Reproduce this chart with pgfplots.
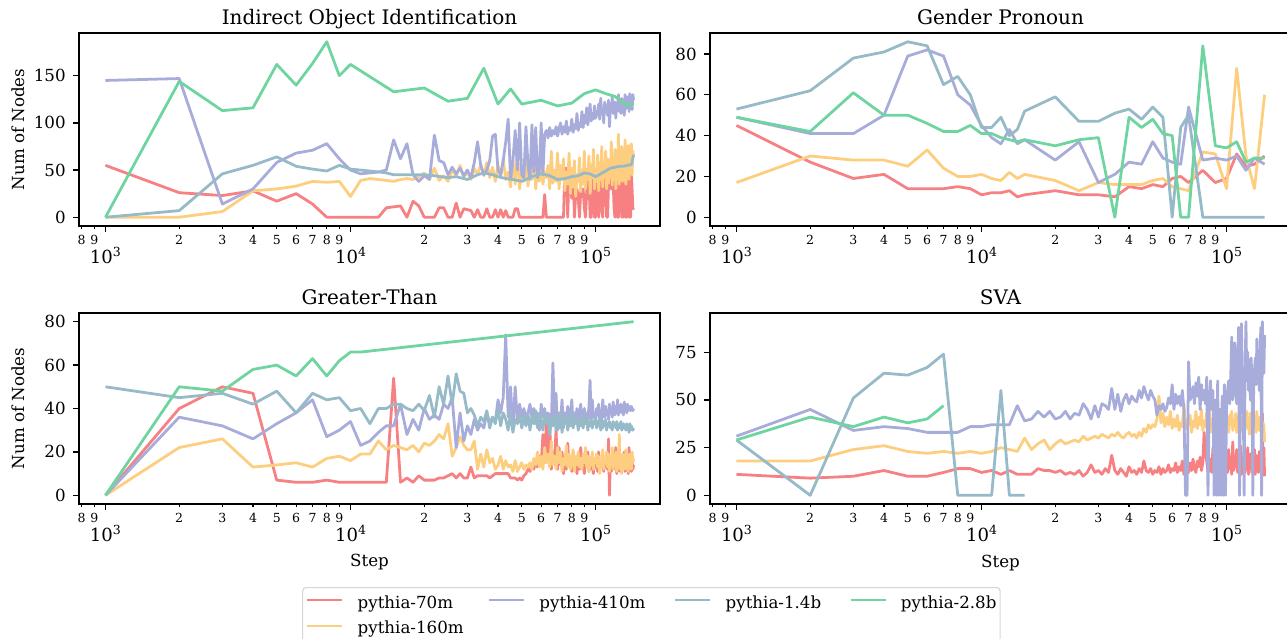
\documentclass[border=0pt]{standalone}
\usepackage{pgfplots}
\pgfplotsset{compat=1.18}
\usepackage{pgfplotstable}
\usepackage{fontspec}
\setmainfont{DejaVu Serif}
\definecolor{c70}{RGB}{246,128,130}
\definecolor{c160}{RGB}{253,206,128}
\definecolor{c410}{RGB}{168,172,218}
\definecolor{c14}{RGB}{150,186,200}
\definecolor{c28}{RGB}{110,212,160}
\newcommand{\sx}[1]{10\raisebox{5.3pt}{\fontsize{9}{10}\selectfont #1}}

\pgfplotstableread{
step r o l g G
1000 55 0 145 0 0
2000 26 0 147 7 144
3000 23 6 14 46 113
4000 28 28 30 55 116
5000 17 30 58 64 162
6000 25 33 68 54 140
7000 14 38 71 51 163
8000 0 37 78 49 186
9000 0 38 62 55 150
10000 0 22 50 51 162
11000 0 39 46 50 nan
12000 0 41 47 49 nan
13000 0 40 48 48 nan
14000 10 39 50 47 nan
15000 11 38 82 45 133
16000 12 40 62 nan nan
17000 0 41 78 45 nan
18000 17 40 45 nan nan
19000 12 43 38 nan nan
20000 0 47 44 45 137
21000 0 40 40 nan nan
22000 0 52 87 44 nan
23000 10 39 60 nan nan
24000 10 44 58 nan nan
25000 0 38 45 42 123
26000 0 50 53 nan nan
27000 15 44 46 43 nan
28000 0 55 52 nan nan
29000 9 42 44 nan nan
30000 8 48 50 40 126
31000 7 40 42 nan nan
32000 0 52 58 nan nan
33000 8 45 80 45 nan
34000 0 56 55 nan nan
35000 0 44 45 47 158
36000 9 58 50 nan nan
37000 0 42 60 nan nan
38000 0 53 86 45 nan
39000 8 38 88 nan nan
40000 0 55 50 43 120
41000 8 42 45 nan nan
42000 0 62 60 nan nan
43000 7 40 80 41 nan
44000 0 48 104 nan nan
45000 0 32 40 nan 136
46000 0 60 60 40 nan
47000 9 35 92 nan nan
48000 9 70 50 nan nan
49000 0 30 100 nan nan
50000 0 55 45 38 120
51000 0 38 42 nan nan
52000 0 72 96 nan nan
53000 0 33 55 nan nan
54000 0 58 40 nan nan
55000 0 40 98 43 nan
56000 0 65 48 nan nan
57000 0 30 95 nan nan
58000 0 52 42 nan nan
59000 0 38 50 nan nan
60000 0 60 100 46 124
61000 0 35 45 nan nan
62000 24 48 88 nan nan
63000 0 42 92 nan nan
64000 0 55 84 nan nan
65000 0 30 95 44 nan
66000 0 70 86 nan nan
67000 0 36 92 nan nan
68000 0 50 88 nan nan
69000 0 38 96 nan nan
70000 0 68 86 40 118
71000 0 30 94 nan nan
72000 0 55 100 nan nan
73000 0 40 88 nan nan
74000 0 62 96 nan nan
75000 52 28 90 41 nan
76000 52 48 102 nan nan
77000 0 35 88 nan nan
78000 50 68 95 nan nan
79000 30 25 92 nan nan
80000 20 52 104 43 121
81000 52 32 90 nan nan
82000 0 60 98 nan nan
83000 25 22 94 nan nan
84000 30 45 110 nan nan
85000 20 38 92 44 nan
86000 0 63 100 nan nan
87000 28 27 96 nan nan
88000 22 50 112 nan nan
89000 30 35 95 nan nan
90000 10 70 108 47 131
91000 0 30 100 nan nan
92000 25 48 116 nan nan
93000 52 40 98 nan nan
94000 45 65 106 nan nan
95000 0 25 120 46 nan
96000 0 55 102 nan nan
97000 20 42 110 nan nan
98000 40 72 104 nan nan
99000 0 30 118 nan nan
100000 0 50 105 43 135
101000 45 38 112 nan nan
102000 30 66 108 nan nan
103000 0 28 120 nan nan
104000 20 58 104 nan nan
105000 45 40 126 46 nan
106000 10 75 110 nan nan
107000 0 32 115 nan nan
108000 30 55 100 nan nan
109000 48 45 122 nan nan
110000 40 70 112 49 131
111000 0 30 118 nan nan
112000 0 62 108 nan nan
113000 35 36 124 nan nan
114000 50 52 96 nan nan
115000 45 44 120 52 nan
116000 30 80 112 nan nan
117000 50 34 128 nan nan
118000 40 60 110 nan nan
119000 10 48 116 nan nan
120000 0 72 122 53 128
121000 30 30 105 nan nan
122000 45 56 120 nan nan
123000 0 42 114 nan nan
124000 0 88 130 nan nan
125000 20 35 112 54 nan
126000 50 62 118 nan nan
127000 42 48 110 nan nan
128000 0 75 126 nan nan
129000 35 38 116 nan nan
130000 0 58 120 54 nan
131000 50 45 108 nan nan
132000 15 82 130 nan nan
133000 0 35 115 nan nan
134000 0 60 122 nan nan
135000 45 50 118 55 118
136000 25 76 128 nan nan
137000 0 40 112 nan nan
138000 40 65 131 nan nan
139000 0 52 118 nan nan
140000 48 78 125 56 nan
141000 30 45 114 nan nan
142000 10 70 130 nan nan
143000 8 65 124 66 121
}\ioi

\pgfplotstableread{
step r o l g G
1000 45 17 49 53 49
2000 27 30 41 62 42
3000 19 28 41 78 61
4000 21 28 50 81 50
5000 14 25 79 86 50
6000 14 33 82 84 46
7000 14 24 79 65 42
8000 15 20 60 69 42
9000 14 20 55 60 45
10000 11 21 45 44 41
11000 12 19 39 44 41
12000 12 18 36 49 39
13000 13 22 43 40 38
14000 10 19 36 43 37
15000 11 21 38 52 38
20000 13 18 28 59 35
25000 11 13 37 47 38
30000 11 17 17 47 39
35000 10 16 21 51 0
40000 15 16 27 53 49
45000 14 16 26 48 44
50000 16 18 37 54 48
55000 15 19 29 49 41
60000 19 15 27 0 40
65000 20 14 26 44 0
70000 17 13 54 50 0
80000 23 32 28 0 84
90000 17 31 29 0 35
100000 19 14 28 0 34
110000 31 73 30 0 37
120000 25 30 23 0 27
130000 26 14 29 0 29
143000 30 60 26 0 29
}\gp

\pgfplotstableread{
step r o l g G
1000 0 0 0 50 0
2000 40 22 36 45 50
3000 50 26 32 47 48
4000 47 13 26 42 58
5000 7 14 33 48 60
6000 6 15 38 38 55
7000 6 13 44 47 63
8000 7 17 27 44 55
9000 6 18 30 45 62
10000 6 16 34 39 66
11000 6 19 23 40 66
12000 6 19 25 33 nan
13000 6 25 29 40 nan
14000 6 21 32 40 nan
15000 54 23 32 42 nan
16000 6 22 42 42 nan
17000 8 21 28 40 nan
18000 6 23 35 39 nan
19000 9 20 30 42 nan
20000 7 24 40 39 nan
21000 7 23 35 46 nan
22000 7 25 37 36 nan
23000 8 28 35 50 nan
24000 8 26 42 42 nan
25000 9 33 40 55 nan
26000 10 18 45 42 nan
27000 8 22 22 56 nan
28000 10 27 38 48 nan
29000 8 23 25 47 nan
30000 8 21 32 38 nan
31000 13 21 28 40 nan
32000 8 25 35 37 nan
33000 9 12 30 32 nan
34000 9 19 33 36 nan
35000 9 13 31 34 nan
36000 9 21 38 39 nan
37000 8 15 33 31 nan
38000 9 17 36 36 nan
39000 10 12 34 33 nan
40000 10 14 44 40 nan
41000 10 18 38 32 nan
42000 10 12 45 38 nan
43000 10 16 74 35 nan
44000 10 13 36 30 nan
45000 8 14 50 38 nan
46000 8 11 30 29 nan
47000 8 16 50 35 nan
48000 7 11 34 33 nan
49000 8 13 42 37 nan
50000 7 15 36 31 nan
51000 9 12 40 36 nan
52000 10 14 35 32 nan
53000 12 13 38 38 nan
54000 11 15 42 30 nan
55000 14 12 36 36 nan
56000 12 17 40 33 nan
57000 16 14 33 39 nan
58000 13 20 38 31 nan
59000 18 13 30 37 nan
60000 14 18 42 34 nan
61000 28 12 36 30 nan
62000 15 22 40 38 nan
63000 34 15 34 33 nan
64000 18 19 38 36 nan
65000 33 13 36 28 nan
66000 12 25 32 35 nan
67000 20 14 61 32 nan
68000 15 18 36 37 nan
69000 30 12 47 30 nan
70000 12 22 30 36 nan
71000 22 15 38 31 nan
72000 14 20 34 38 nan
73000 20 11 44 29 nan
74000 10 17 31 35 nan
75000 18 14 38 33 nan
76000 12 23 35 37 nan
77000 24 13 41 30 nan
78000 14 19 33 34 nan
79000 17 12 37 32 nan
80000 11 16 44 38 nan
81000 20 21 32 31 nan
82000 13 11 38 36 nan
83000 16 18 35 33 nan
84000 10 14 40 35 nan
85000 19 20 33 30 nan
86000 12 13 37 34 nan
87000 22 17 42 32 nan
88000 13 12 34 37 nan
89000 15 19 36 31 nan
90000 10 15 40 35 nan
91000 18 22 33 33 nan
92000 14 13 38 36 nan
93000 20 18 35 30 nan
94000 11 11 41 34 nan
95000 16 16 53 32 nan
96000 12 14 34 35 nan
97000 19 20 44 31 nan
98000 10 12 36 34 nan
99000 17 17 38 33 nan
100000 13 15 33 36 nan
101000 16 19 40 31 nan
102000 11 13 37 34 nan
103000 20 18 42 32 nan
104000 12 10 35 35 nan
105000 15 16 39 30 nan
106000 14 14 34 33 nan
107000 18 21 44 31 nan
108000 11 12 38 34 nan
109000 16 17 36 32 nan
110000 13 15 41 35 nan
111000 17 20 37 30 nan
112000 12 13 39 33 nan
113000 26 19 35 32 nan
114000 0 11 42 34 nan
115000 18 18 38 31 nan
116000 11 14 40 33 nan
117000 16 22 36 30 nan
118000 13 12 43 34 nan
119000 20 17 39 32 nan
120000 12 15 37 33 nan
121000 22 20 41 31 nan
122000 10 11 38 34 nan
123000 15 18 44 30 nan
124000 13 14 37 32 nan
125000 17 28 40 33 nan
126000 11 12 39 31 nan
127000 18 16 42 34 nan
128000 12 10 38 30 nan
129000 16 19 41 32 nan
130000 14 14 37 33 nan
131000 20 17 43 31 nan
132000 11 12 39 32 nan
133000 15 21 40 30 nan
134000 12 13 38 33 nan
135000 17 16 42 31 nan
136000 10 11 39 32 nan
137000 22 19 41 29 nan
138000 12 14 40 33 nan
139000 14 17 39 30 nan
140000 11 12 41 32 nan
141000 16 20 40 31 nan
142000 12 15 39 30 nan
143000 14 17 40 31 80
}\gtt

\pgfplotstableread{
step r o l g G
1000 11 18 31 29 29
2000 9 18 45 0 41
3000 10 24 34 51 36
4000 13 26 36 64 41
5000 10 23 35 63 38
6000 10 22 33 67 40
7000 12 23 33 74 47
8000 14 22 33 0 nan
9000 14 23 36 0 nan
10000 12 22 36 0 nan
11000 13 23 37 0 nan
12000 11 25 37 55 nan
13000 13 24 37 0 nan
14000 11 23 47 0 nan
15000 11 30 39 0 nan
16000 11 24 40 nan nan
17000 14 27 44 nan nan
18000 13 29 41 nan nan
19000 13 24 44 nan nan
20000 12 27 40 nan nan
21000 13 29 41 nan nan
22000 11 27 44 nan nan
23000 12 28 40 nan nan
24000 11 29 43 nan nan
25000 13 28 42 nan nan
26000 10 31 48 nan nan
27000 12 29 45 nan nan
28000 16 30 40 nan nan
29000 12 31 47 nan nan
30000 13 30 41 nan nan
31000 11 32 48 nan nan
32000 14 31 47 nan nan
33000 12 30 45 nan nan
34000 21 32 56 nan nan
35000 13 31 45 nan nan
36000 11 33 53 nan nan
37000 14 31 44 nan nan
38000 12 30 50 nan nan
39000 10 32 53 nan nan
40000 15 33 48 nan nan
41000 12 31 52 nan nan
42000 13 32 50 nan nan
43000 11 30 49 nan nan
44000 14 33 55 nan nan
45000 12 31 51 nan nan
46000 18 35 57 nan nan
47000 13 33 53 nan nan
48000 12 37 50 nan nan
49000 14 35 55 nan nan
50000 11 37 52 nan nan
51000 13 36 50 nan nan
52000 12 40 42 nan nan
53000 15 52 47 nan nan
54000 11 38 45 nan nan
55000 14 43 48 nan nan
56000 12 36 44 nan nan
57000 13 41 46 nan nan
58000 16 37 51 nan nan
59000 12 44 48 nan nan
60000 14 35 58 nan nan
61000 13 40 45 nan nan
62000 17 36 53 nan nan
63000 12 42 48 nan nan
64000 15 34 52 nan nan
65000 13 38 47 nan nan
66000 18 36 55 nan nan
67000 11 48 45 nan nan
68000 16 35 0 nan nan
69000 14 40 0 nan nan
70000 12 37 70 nan nan
71000 17 42 50 nan nan
72000 13 33 52 nan nan
73000 19 39 57 nan nan
74000 14 36 48 nan nan
75000 12 44 59 nan nan
76000 18 35 52 nan nan
77000 15 41 62 nan nan
78000 20 37 45 nan nan
79000 13 45 58 nan nan
80000 17 34 50 nan nan
81000 33 39 55 nan nan
82000 22 36 48 nan nan
83000 18 43 62 nan nan
84000 12 35 0 nan nan
85000 14 47 50 nan nan
86000 19 33 60 nan nan
87000 12 40 45 nan nan
88000 25 36 55 nan nan
89000 15 42 0 nan nan
90000 20 34 50 nan nan
91000 13 44 0 nan nan
92000 28 35 60 nan nan
93000 12 39 0 nan nan
94000 18 37 45 nan nan
95000 14 43 0 nan nan
96000 22 32 52 nan nan
97000 11 41 0 nan nan
98000 26 36 58 nan nan
99000 15 45 0 nan nan
100000 19 35 45 nan nan
101000 12 40 55 nan nan
102000 24 33 60 nan nan
103000 14 42 48 nan nan
104000 20 37 62 nan nan
105000 11 44 83 nan nan
106000 28 34 50 nan nan
107000 13 39 55 nan nan
108000 18 36 80 nan nan
109000 15 43 60 nan nan
110000 24 33 48 nan nan
111000 12 41 70 nan nan
112000 20 37 88 nan nan
113000 14 45 0 nan nan
114000 26 34 55 nan nan
115000 11 40 90 nan nan
116000 19 36 60 nan nan
117000 15 42 50 nan nan
118000 23 33 0 nan nan
119000 12 39 65 nan nan
120000 18 37 91 nan nan
121000 14 44 60 nan nan
122000 25 35 75 nan nan
123000 11 40 55 nan nan
124000 20 32 68 nan nan
125000 16 43 50 nan nan
126000 22 36 72 nan nan
127000 12 38 60 nan nan
128000 18 34 0 nan nan
129000 14 42 55 nan nan
130000 24 35 65 nan nan
131000 11 40 72 nan nan
132000 21 33 58 nan nan
133000 15 44 82 nan nan
134000 19 36 62 nan nan
135000 12 39 70 nan nan
136000 23 34 55 nan nan
137000 14 41 75 nan nan
138000 18 35 88 nan nan
139000 11 43 0 nan nan
140000 43 33 91 nan nan
141000 12 38 66 nan nan
142000 25 36 64 nan nan
143000 10 28 84 nan nan
}\sva

\pgfplotsset{
  scale only axis, width=418.32pt,
  xmin=780, xmax=183300,
  xtick={1000,10000,100000},
  xticklabels={\sx{3},\sx{4},\sx{5}},
  xminorticks=false, yminorticks=false,
  extra x ticks={800,900,2000,3000,4000,5000,6000,7000,8000,9000,20000,30000,40000,50000,60000,70000,80000,90000},
  extra x tick labels={8,9,2,3,4,5,6,7,8,9,2,3,4,5,6,7,8,9},
  extra x tick style={major tick length=2.5pt, xticklabel style={font=\fontsize{9}{10}\selectfont, yshift=11.7pt}},
  xticklabel style={font=\fontsize{13}{15}\selectfont, anchor=base, inner sep=0pt, yshift=-22.7pt},
  yticklabel style={font=\fontsize{12}{14}\selectfont, anchor=east, inner sep=0pt, xshift=-5.04pt},
  tick align=outside, tick pos=left,
  major tick length=4.4pt,
  every tick/.style={black, line width=0.9pt},
  axis line style={line width=0.9pt},
  title style={font=\fontsize{14.4}{17}\selectfont, at={(0.5,1)}, anchor=base, yshift=-0.02pt},
  ylabel style={font=\fontsize{12}{14}\selectfont, at={(axis description cs:-0.105,0.5)}, anchor=center},
  xlabel style={font=\fontsize{12}{14}\selectfont, at={(axis description cs:0.5,0)}, anchor=base, yshift=-45.36pt},
}
\pgfplotsset{every axis plot/.append style={line width=2pt, line join=round}}
\pgfkeys{/pgf/number format/assume math mode=true}

\begin{document}
\begin{tikzpicture}
\path[use as bounding box] (0,0) rectangle (926.64pt,-460.08pt);

\begin{semilogxaxis}[at={(56.88pt,-23.76pt)}, anchor=north west, height=138.96pt,
  ymin=-9.3, ymax=195.3, ytick={0,50,100,150},
  title={Indirect Object Identification}, ylabel={Num of Nodes}]
\addplot[c70] table[x=step,y=r]{\ioi};
\addplot[c160] table[x=step,y=o]{\ioi};
\addplot[c410] table[x=step,y=l]{\ioi};
\addplot[c14] table[x=step,y=g]{\ioi};
\addplot[c28] table[x=step,y=G]{\ioi};
\end{semilogxaxis}

\begin{semilogxaxis}[at={(511.2pt,-23.76pt)}, anchor=north west, height=138.96pt,
  ymin=-4.3, ymax=90.3, ytick={0,20,40,60,80},
  title={Gender Pronoun}]
\addplot[c70] table[x=step,y=r]{\gp};
\addplot[c160] table[x=step,y=o]{\gp};
\addplot[c410] table[x=step,y=l]{\gp};
\addplot[c14] table[x=step,y=g]{\gp};
\addplot[c28] table[x=step,y=G]{\gp};
\end{semilogxaxis}

\begin{semilogxaxis}[at={(56.88pt,-225.36pt)}, anchor=north west, height=137.52pt,
  ymin=-4, ymax=84, ytick={0,20,40,60,80},
  title={Greater-Than}, ylabel={Num of Nodes}, xlabel={Step},
  legend columns=4,
  legend image code/.code={\draw[#1, line width=1.8pt] (0pt,5.76pt) -- (25.2pt,5.76pt);},
  legend style={at={(0.3838,-0.4346)}, anchor=north west,
    draw={rgb,255:red,214;green,214;blue,214}, line width=0.8pt, rounded corners=2.5pt,
    inner xsep=2.6pt, inner ysep=5.4pt, row sep=6.26pt,
    font=\fontsize{12}{14}\selectfont,
    nodes={inner sep=0pt, text height=9.36pt, text depth=2.88pt},
    cells={anchor=base west},
    /tikz/every odd column/.style={column sep=10.08pt},
    /tikz/every even column/.style={column sep=0pt}}]
\addplot[c70, forget plot] table[x=step,y=r]{\gtt};
\addplot[c160, forget plot] table[x=step,y=o]{\gtt};
\addplot[c410, forget plot] table[x=step,y=l]{\gtt};
\addplot[c14, forget plot] table[x=step,y=g]{\gtt};
\addplot[c28, forget plot] table[x=step,y=G]{\gtt};
\addlegendimage{c70}\addlegendentry{\makebox[93.8pt][l]{pythia-70m}}
\addlegendimage{c410}\addlegendentry{\makebox[97.0pt][l]{pythia-410m}}
\addlegendimage{c14}\addlegendentry{\makebox[89.1pt][l]{pythia-1.4b}}
\addlegendimage{c28}\addlegendentry{pythia-2.8b}
\addlegendimage{c160}\addlegendentry{\makebox[93.8pt][l]{pythia-160m}}
\end{semilogxaxis}

\begin{semilogxaxis}[at={(511.2pt,-225.36pt)}, anchor=north west, height=137.52pt,
  ymin=-4.55, ymax=95.55, ytick={0,25,50,75},
  title={SVA}, xlabel={Step}]
\addplot[c70] table[x=step,y=r]{\sva};
\addplot[c160] table[x=step,y=o]{\sva};
\addplot[c410] table[x=step,y=l]{\sva};
\addplot[c14] table[x=step,y=g]{\sva};
\addplot[c28] table[x=step,y=G]{\sva};
\end{semilogxaxis}
\end{tikzpicture}
\end{document}
